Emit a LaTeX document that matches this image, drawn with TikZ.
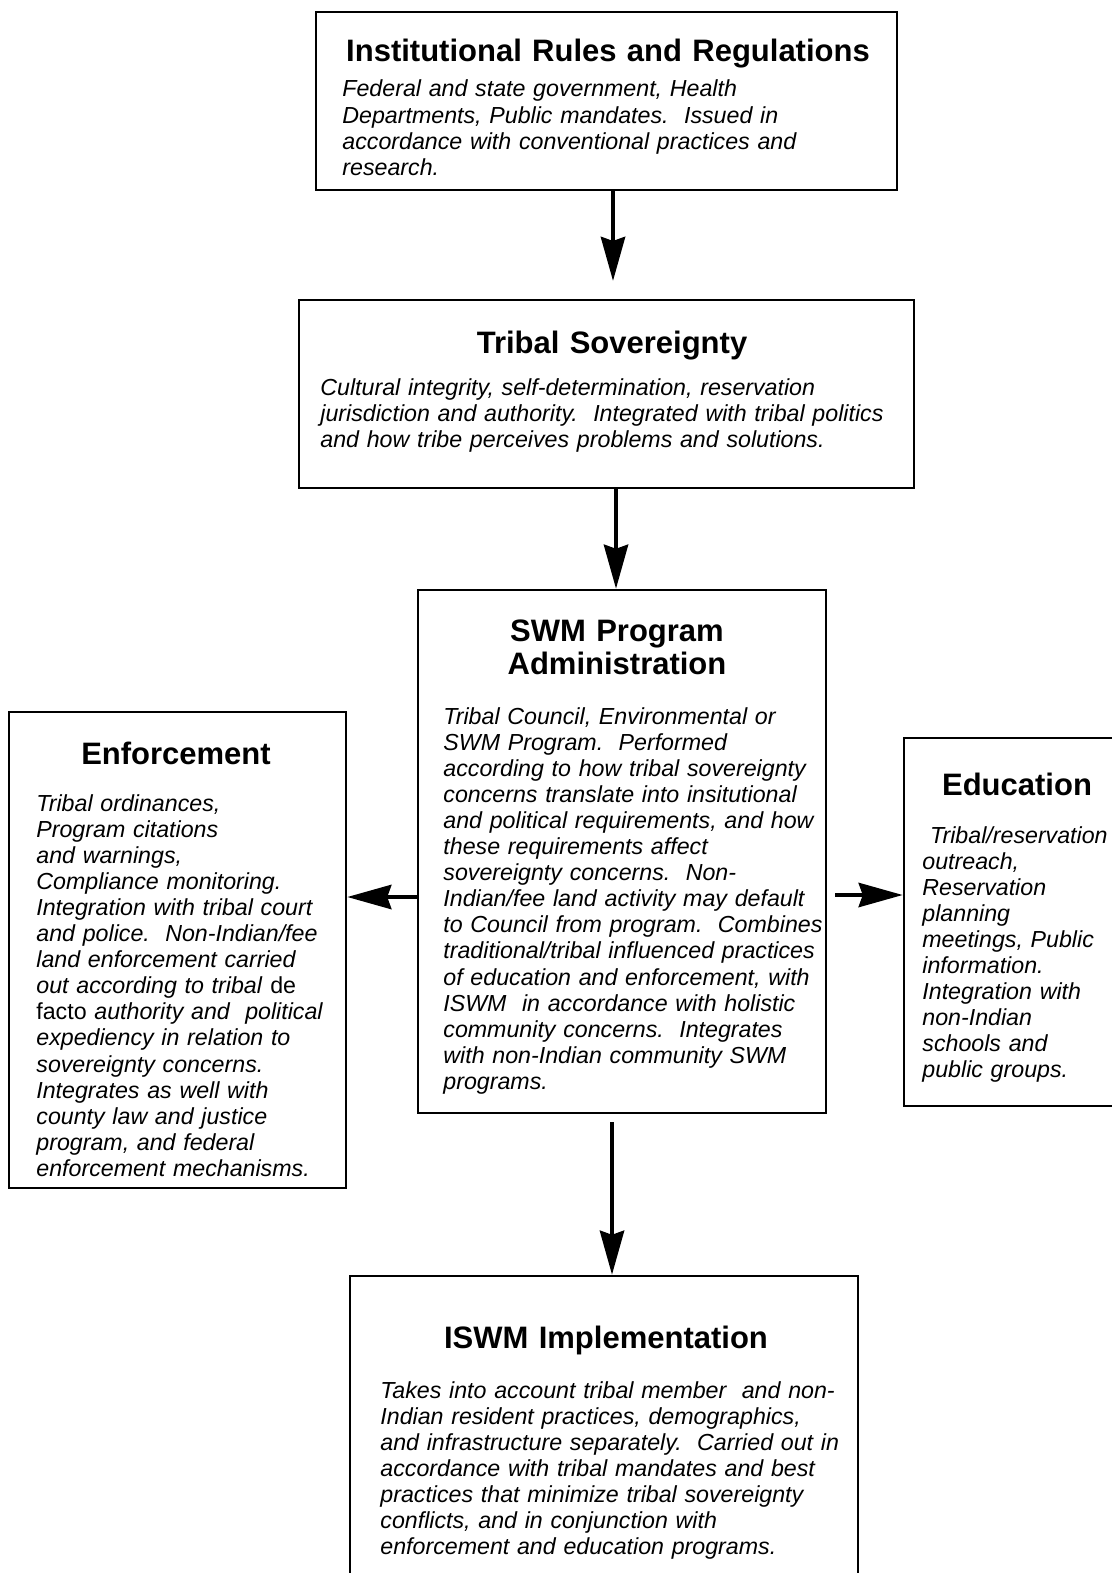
\documentclass[tikz,border=0pt]{standalone}
\usepackage{fontspec}
\setmainfont{Liberation Sans}
\usetikzlibrary{arrows.meta}
\frenchspacing

\begin{document}
\begin{tikzpicture}[x=0.5pt, y=-0.5pt,
    box/.style={draw, line width=1.2pt, inner sep=0pt},
    head/.style={font=\fontsize{15.5}{16.5}\selectfont\bfseries, inner sep=0pt, anchor=base, text width=200pt, align=center},
    txt/.style={font=\fontsize{11.6}{13.05}\selectfont\itshape, inner sep=0pt, anchor=base west, text width=300pt, align=left},
    arr/.style={-{Stealth[length=22pt, width=12pt, inset=2pt]}, line width=2.4pt}]
            \useasboundingbox (0,0) rectangle (1112,1573);

            % boxes
            \node[box, minimum width=290.5pt, minimum height=89pt] (inst) at (606.5, 101) {};
            \node[box, minimum width=307.5pt, minimum height=94pt] (sov) at (606.5, 394) {};
            \node[box, minimum width=204pt, minimum height=261.5pt] (adm) at (622, 851.5) {};
            \node[box, minimum width=168.5pt, minimum height=238pt] (enf) at (177.5, 950) {};
            \node[box, minimum width=110.5pt, minimum height=184pt] (edu) at (1014.5, 922) {};
            \node[box, minimum width=254pt, minimum height=154.5pt] (iswm) at (604, 1430.5) {};

            % titles
            \node[head, text width=290pt] (instT) at (608, 62) {Institutional Rules and Regulations};
            \node[head] (sovT) at (612, 353) {Tribal Sovereignty};
            \node[head] (admT) at (617, 641) {SWM Program\\Administration};
            \node[head] (enfT) at (176, 764) {Enforcement};
            \node[head] (eduT) at (1017, 795) {Education};
            \node[head] (iswmT) at (606, 1348) {ISWM Implementation};

            % texts
            \node[txt] (instB) at (342, 97) {Federal and state government, Health\\
                Departments, Public mandates.~ Issued in\\
                accordance with conventional practices and\\
                research.};
            \node[txt] (sovB) at (320, 395) {Cultural integrity, self-determination, reservation\\
                jurisdiction and authority.~ Integrated with tribal politics\\
                and how tribe perceives problems and solutions.};
            \node[txt] (admB) at (443, 724) {Tribal Council, Environmental or\\
                SWM Program.~ Performed\\
                according to how tribal sovereignty\\
                concerns translate into insitutional\\
                and political requirements, and how\\
                these requirements affect\\
                sovereignty concerns.~ Non-\\
                Indian/fee land activity may default\\
                to Council from program.~ Combines\\
                traditional/tribal influenced practices\\
                of education and enforcement, with\\
                ISWM~ in accordance with holistic\\
                community concerns.~ Integrates\\
                with non-Indian community SWM\\
                programs.};
            \node[txt] (enfB) at (36, 811) {Tribal ordinances,\\
                Program citations\\
                and warnings,\\
                Compliance monitoring.\\
                Integration with tribal court\\
                and police.~ Non-Indian/fee\\
                land enforcement carried\\
                out according to tribal \textup{de}\\
                \textup{facto} authority and~ political\\
                expediency in relation to\\
                sovereignty concerns.\\
                Integrates as well with\\
                county law and justice\\
                program, and federal\\
                enforcement mechanisms.};
            \node[txt] (eduB) at (922, 843) {\ Tribal/reservation\\
                outreach,\\
                Reservation\\
                planning\\
                meetings, Public\\
                information.\\
                Integration with\\
                non-Indian\\
                schools and\\
                public groups.};
            \node[txt] (iswmB) at (380, 1398) {Takes into account tribal member~ and non-\\
                Indian resident practices, demographics,\\
                and infrastructure separately.~ Carried out in\\
                accordance with tribal mandates and best\\
                practices that minimize tribal sovereignty\\
                conflicts, and in conjunction with\\
                enforcement and education programs.};

            % arrows
            \coordinate (t1) at (613, 281);
            \coordinate (t2) at (616, 0);
            \coordinate (t3) at (0, 897);
            \coordinate (t4) at (0, 895);
            \coordinate (t5) at (835, 895);
            \coordinate (t6) at (612, 1122);

            \draw[arr] (inst.south -| t1) -- (t1);
            \draw[arr] (sov.south -| t2) -- (adm.north -| t2);
            \draw[arr] (adm.west |- t3) -- (enf.east |- t3);
            \draw[arr] (t5) -- (edu.west |- t4);
            \draw[arr] (t6) -- (iswm.north -| t6);
        \end{tikzpicture}
\end{document}
